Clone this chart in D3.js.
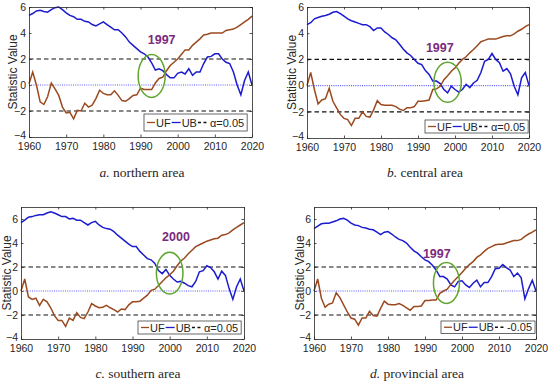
<!DOCTYPE html>
<html>
<head>
<meta charset="utf-8">
<script src="https://cdn.jsdelivr.net/npm/d3@7"></script>
<style>
  body { margin: 0; background: #fff; }
  svg text { font-family: "Liberation Sans", Arial, sans-serif; fill: #262626; }
</style>
</head>
<body>
<script>
// ---- data ----
var years = d3.range(1960, 2021);

var ufNorth = [0.1, 1.0, 0.0, -1.3, -1.5, -0.9, 0.15, -0.3, -0.8, -1.7,
  -2.15, -2.1, -2.6, -1.95, -2.0, -1.4, -1.7, -1.55, -1.05, -0.4,
  -0.65, -0.75, -0.75, -0.45, -0.8, -1.2, -1.25, -1.05, -0.8, -0.75,
  -0.25, -0.35, -0.35, -0.35, 0.15, 0.5, 0.6, 1.1, 1.5, 1.75,
  2.0, 2.35, 2.7, 2.7, 3.05, 3.3, 3.55, 3.85, 3.9, 4.0,
  4.0, 4.0, 4.0, 4.2, 4.25, 4.3, 4.45, 4.65, 4.85, 5.05, 5.3];
var ubNorth = [5.35, 5.5, 5.7, 5.75, 5.65, 5.6, 5.8, 5.95, 6.0, 5.8,
  5.55, 5.35, 5.25, 5.05, 5.05, 4.9, 4.85, 4.65, 4.55, 4.7,
  4.85, 4.65, 4.45, 4.25, 4.25, 4.0, 3.7, 3.3, 3.05, 2.8,
  2.55, 2.4, 2.15, 1.7, 1.15, 1.25, 1.1, 0.8, 0.55, 0.55,
  0.9, 1.0, 0.85, 1.25, 0.75, 1.0, 1.0, 1.65, 2.15, 2.2,
  2.4, 2.4, 2.0, 1.75, 1.65, 1.0, 0.0, -0.75, 0.35, 1.0, 0.0];

var ufCentral = [0.0, 1.0, -0.3, -1.4, -1.1, -1.0, -0.2, -1.2, -1.7, -2.2,
  -2.5, -2.6, -3.05, -2.5, -2.5, -2.0, -2.35, -2.4, -1.85, -1.15,
  -1.45, -1.5, -1.5, -1.5, -1.6, -1.8, -1.9, -1.7, -1.7, -1.6,
  -1.2, -1.2, -1.15, -1.1, -0.3, -0.25, -0.05, 0.45, 0.75, 1.1,
  1.35, 1.7, 2.0, 2.2, 2.5, 2.75, 3.05, 3.35, 3.45, 3.55,
  3.55, 3.55, 3.65, 3.75, 3.8, 3.8, 3.95, 4.15, 4.3, 4.5, 4.65];
var ubCentral = [4.65, 4.8, 5.1, 5.2, 5.3, 5.35, 5.45, 5.6, 5.65, 5.5,
  5.3, 5.1, 4.95, 4.85, 4.75, 4.65, 4.65, 4.5, 4.2, 4.4,
  4.4, 4.1, 3.9, 3.65, 3.5, 3.15, 2.8, 2.5, 2.3, 2.0,
  1.7, 1.6, 1.15, 0.85, 0.35, 0.35, 0.15, -0.3, -0.55, -0.05,
  -0.3, -0.5, -0.3, 0.1, -0.15, 0.2, 0.4, 1.0, 1.85, 2.0,
  2.45, 2.0, 1.75, 1.1, 1.3, 0.9, -0.05, -0.7, 0.6, 1.0, 0.0];

var ufSouth = [0.0, 1.0, -0.5, -0.7, -0.6, -1.2, -0.7, -0.9, -1.4, -2.05,
  -2.45, -2.45, -2.95, -2.25, -2.45, -1.8, -2.2, -2.3, -1.75, -1.05,
  -1.25, -1.4, -1.35, -1.2, -1.4, -1.55, -1.75, -1.5, -1.55, -1.15,
  -0.9, -0.9, -0.85, -0.6, -0.35, 0.05, 0.15, 0.45, 0.8, 1.1,
  1.35, 1.65, 2.1, 2.5, 2.75, 3.1, 3.4, 3.7, 3.85, 4.0,
  4.15, 4.25, 4.35, 4.4, 4.65, 4.7, 4.85, 5.1, 5.3, 5.5, 5.7];
var ubSouth = [5.7, 5.9, 6.15, 6.2, 6.3, 6.35, 6.35, 6.5, 6.6, 6.5,
  6.35, 6.2, 6.2, 6.0, 6.05, 5.9, 5.9, 5.7, 5.5, 5.7,
  5.8, 5.5, 5.3, 5.2, 5.15, 4.95, 4.65, 4.4, 4.15, 3.9,
  3.7, 3.7, 3.3, 3.0, 2.7, 2.6, 2.3, 1.7, 1.45, 1.8,
  1.3, 1.0, 0.75, 0.8, 0.65, 0.45, 0.35, 0.8, 1.6, 1.7,
  2.1, 1.95, 1.6, 1.0, 1.65, 1.3, 0.2, -0.7, 0.35, 1.0, 0.0];

var ufProvince = [0.0, 1.0, -0.6, -1.35, -1.1, -1.0, -0.15, -0.55, -1.15, -1.75,
  -2.25, -2.35, -2.85, -2.25, -2.25, -1.7, -2.05, -2.1, -1.45, -0.85,
  -1.1, -1.15, -1.15, -1.05, -1.2, -1.4, -1.6, -1.3, -1.3, -1.25,
  -0.8, -0.8, -0.75, -0.75, -0.2, 0.0, 0.15, 0.55, 0.9, 1.2,
  1.55, 1.9, 2.2, 2.45, 2.8, 3.0, 3.3, 3.55, 3.7, 3.85,
  3.9, 3.9, 4.0, 4.1, 4.2, 4.2, 4.3, 4.55, 4.75, 4.9, 5.1];
var ubProvince = [5.2, 5.4, 5.6, 5.65, 5.65, 5.75, 5.85, 6.0, 6.05, 5.9,
  5.65, 5.5, 5.45, 5.3, 5.25, 5.15, 5.1, 4.9, 4.7, 4.9,
  4.95, 4.75, 4.5, 4.3, 4.2, 4.0, 3.65, 3.35, 3.15, 2.85,
  2.6, 2.45, 2.15, 1.75, 1.2, 1.2, 1.0, 0.5, 0.35, 0.8,
  0.85, 0.5, 0.3, 0.65, 0.9, 0.35, 0.7, 0.7, 1.2, 1.85,
  1.9, 2.2, 1.95, 1.75, 1.2, 1.5, 1.1, -0.65, 0.2, 0.9, 0.0];

var xTicks = [1960, 1970, 1980, 1990, 2000, 2010, 2020];
var yTicks = [-4, -2, 0, 2, 4, 6];
var critical = [2, -2];
var letters = ['a.', 'b.', 'c.', 'd.'];
var areaNames = ['northern area', 'central area', 'southern area', 'provincial area'];
var breakYears = ['1997', '1997', '2000', '1997'];
var legendNames = [['UF', 'UB', '\u03b1=0.05'], ['UF', 'UB', '\u03b1=0.05'],
                   ['UF', 'UB', '\u03b1=0.05'], ['UF', 'UB', '-0.05']];

var ufColor = '#9b4a1f';
var ubColor = '#1b1bcf';

// ---- layout of each panel (pixels) ----
var panels = [
  {uf: ufNorth, ub: ubNorth, x0: 29, x1: 252, y0: 7, y1: 137, yMax: 6, labX: 13, capX: 142, capY: 177,
   leg: {x: 144, y: 114, h: 17}, txt: [1995.7, 3.45], ell: [1993, 0.7, 13.5, 21.5]},
  {uf: ufCentral, ub: ubCentral, x0: 307, x1: 529, y0: 7, y1: 138, yMax: 6, labX: 292, capX: 425, capY: 177,
   leg: {x: 425, y: 120, h: 13}, txt: [1995.9, 2.85], ell: [1998, 0.26, 13.7, 20]},
  {uf: ufSouth, ub: ubSouth, x0: 21, x1: 244, y0: 207, y1: 339, yMax: 7, labX: 7, capX: 138, capY: 378,
   leg: {x: 138, y: 321, h: 13}, txt: [2001.7, 4.5], ell: [2000, 1.49, 13.3, 20.8]},
  {uf: ufProvince, ub: ubProvince, x0: 314, x1: 536, y0: 207, y1: 339, yMax: 7, labX: 300, capX: 417, capY: 378,
   leg: {x: 441, y: 321, h: 12.5}, txt: [1993.2, 3.1], ell: [1995.8, 0.67, 13, 20.5]}
];

var svg = d3.select('body').append('svg')
  .attr('width', 550).attr('height', 384);

panels.forEach(function(p, i) {
  var x = d3.scaleLinear().domain([1960, 2020]).range([p.x0, p.x1]);
  var y = d3.scaleLinear().domain([-4, p.yMax]).range([p.y1, p.y0]);
  var g = svg.append('g');

  // zero line
  g.append('line')
    .attr('x1', x(1960)).attr('x2', x(2020))
    .attr('y1', y(0)).attr('y2', y(0))
    .attr('stroke', '#5a5aff').attr('stroke-width', 1.2)
    .attr('stroke-dasharray', '1,1.2');

  // critical value lines
  g.selectAll('.crit').data(critical).enter().append('line')
    .attr('x1', x(1960)).attr('x2', x(2020))
    .attr('y1', function(d) { return y(d); })
    .attr('y2', function(d) { return y(d); })
    .attr('stroke', '#111').attr('stroke-width', 1.2)
    .attr('stroke-dasharray', '4.5,3');

  var line = d3.line()
    .x(function(d, k) { return x(years[k]); })
    .y(function(d) { return y(d); });

  g.append('path').datum(p.ub)
    .attr('d', line).attr('fill', 'none')
    .attr('stroke', ubColor).attr('stroke-width', 1.5);
  g.append('path').datum(p.uf)
    .attr('d', line).attr('fill', 'none')
    .attr('stroke', ufColor).attr('stroke-width', 1.5);

  // axes, matlab style box with inward ticks
  var yt = yTicks.filter(function(t) { return t <= p.yMax; });
  var bottom = d3.axisBottom(x).tickValues(xTicks).tickFormat(d3.format('d'))
    .tickSizeInner(-2.5).tickSizeOuter(0).tickPadding(6);
  var left = d3.axisLeft(y).tickValues(yt).tickSizeInner(-2.5).tickSizeOuter(0).tickPadding(3);
  var top = d3.axisTop(x).tickValues(xTicks).tickFormat('').tickSizeInner(-2.5).tickSizeOuter(0);
  var right = d3.axisRight(y).tickValues(yt).tickFormat('').tickSizeInner(-2.5).tickSizeOuter(0);

  var ax = [
    g.append('g').attr('transform', 'translate(0,' + p.y1 + ')').call(bottom),
    g.append('g').attr('transform', 'translate(' + p.x0 + ',0)').call(left),
    g.append('g').attr('transform', 'translate(0,' + p.y0 + ')').call(top),
    g.append('g').attr('transform', 'translate(' + p.x1 + ',0)').call(right)
  ];
  ax.forEach(function(a) {
    a.selectAll('path, line').attr('stroke', '#262626').attr('stroke-width', 0.8);
    a.selectAll('text').attr('font-size', 10.5).attr('font-family', '"Liberation Sans", Arial, sans-serif')
      .attr('fill', '#262626');
  });
  // lift the lowest y label a touch so it clears the first year label
  ax[1].selectAll('text').filter(function(d) { return d === -4; }).attr('dy', '0.1em');

  // y label
  g.append('text')
    .attr('transform', 'translate(' + p.labX + ',' + ((p.y0 + p.y1) / 2) + ') rotate(-90)')
    .attr('text-anchor', 'middle').attr('dominant-baseline', 'central')
    .attr('font-size', 12).text('Statistic Value');

  // annotation
  g.append('ellipse')
    .attr('cx', x(p.ell[0])).attr('cy', y(p.ell[1]))
    .attr('rx', p.ell[2]).attr('ry', p.ell[3])
    .attr('fill', 'none').attr('stroke', '#5fa52e').attr('stroke-width', 1.5);
  g.append('text')
    .attr('x', x(p.txt[0])).attr('y', y(p.txt[1]))
    .attr('text-anchor', 'middle').attr('dominant-baseline', 'central')
    .attr('font-size', 12.5).attr('font-weight', 'bold')
    .style('fill', '#7b2a7e').text(breakYears[i]);

  // legend
  var lg = g.append('g');
  var box = lg.append('rect')
    .attr('x', p.leg.x).attr('y', p.leg.y).attr('height', p.leg.h)
    .attr('fill', '#fff').attr('stroke', '#444').attr('stroke-width', 0.8);
  var cy = p.leg.y + p.leg.h / 2;
  var cx = p.leg.x + 3;
  var samples = [
    {color: ufColor, dash: null, len: 8},
    {color: ubColor, dash: null, len: 9},
    {color: '#111', dash: '3,2.5', len: 11}
  ];
  samples.forEach(function(s, k) {
    lg.append('line')
      .attr('x1', cx).attr('x2', cx + s.len).attr('y1', cy).attr('y2', cy)
      .attr('stroke', s.color).attr('stroke-width', 1.3)
      .attr('stroke-dasharray', s.dash);
    cx += s.len + 1;
    var t = lg.append('text')
      .attr('x', cx).attr('y', cy).attr('dominant-baseline', 'central')
      .attr('font-size', 11).text(legendNames[i][k]);
    cx += t.node().getComputedTextLength() + 1;
  });
  box.attr('width', cx - p.leg.x + 2);

  // caption
  var cap = g.append('text')
    .attr('x', p.capX).attr('y', p.capY)
    .attr('text-anchor', 'middle')
    .style('font-family', '"Liberation Serif", "Times New Roman", serif')
    .attr('font-size', 13.5);
  cap.append('tspan').attr('font-style', 'italic').text(letters[i]);
  cap.append('tspan').text(' ' + areaNames[i]);
});
</script>
</body>
</html>
